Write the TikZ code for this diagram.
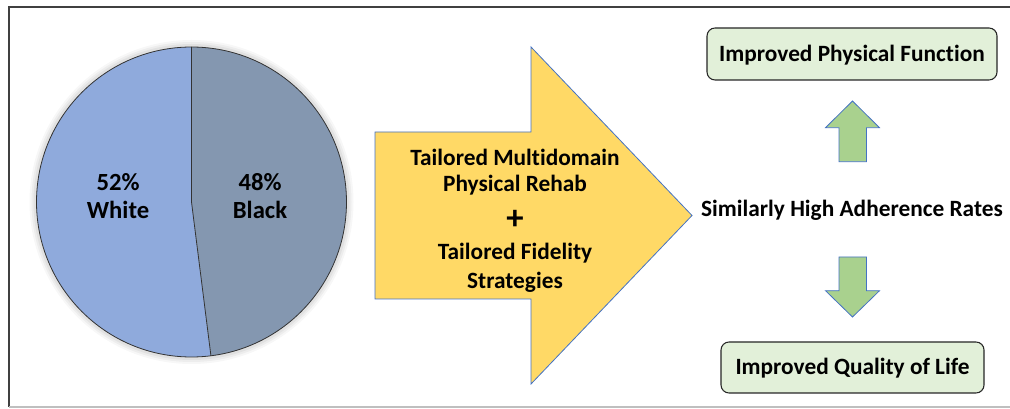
\documentclass[tikz,border=0pt]{standalone}
\usepackage{fontspec}
\usetikzlibrary{calc}
\setmainfont{Carlito}[RawFeature={-liga}]
\definecolor{whiteslice}{HTML}{8FAADC}
\definecolor{blackslice}{HTML}{8497B0}
\definecolor{bigarrow}{HTML}{FFD966}
\definecolor{arrowline}{HTML}{4472C4}
\definecolor{greenarrow}{HTML}{A9D18E}
\definecolor{greenbox}{HTML}{E2F0D9}
\definecolor{framegray}{HTML}{404040}
\tikzset{
  lbl/.style={font=\bfseries\fontsize{17.5pt}{21pt}\selectfont, inner sep=0pt, anchor=center},
  pielbl/.style={font=\bfseries\fontsize{18.5pt}{23pt}\selectfont, inner sep=0pt, align=center},
  outbox/.style={draw=black!85, line width=0.8pt, fill=greenbox, rounded corners=6pt},
  arrowshape/.style={draw=arrowline, line width=0.6pt}
}
\begin{document}
\begin{tikzpicture}[x=0.75pt,y=-0.75pt]
\useasboundingbox (0,0) rectangle (1010,409);
% frame
\draw[framegray, line width=1pt] (9,407) -- (9,7) -- (1012,7);
\draw[black!25, line width=1pt] (9,407) -- (1012,407);
% pie shadow
\foreach \r/\o in {121.5pt/0.03,120pt/0.04,118.5pt/0.05}{
  \fill[black, opacity=\o] (191.5,202) circle[radius=\r];
}
% pie
\coordinate (pc) at (191.5,202);
\fill[whiteslice] (pc) -- ++(90:116.25pt) arc[start angle=90, end angle=277.2, radius=116.25pt] -- cycle;
\fill[blackslice] (pc) -- ++(90:116.25pt) arc[start angle=90, end angle=-82.8, radius=116.25pt] -- cycle;
\draw[black!80, line width=0.6pt] (pc) circle[radius=116.25pt];
\draw[black!80, line width=0.6pt] ($(pc)+(90:116.25pt)$) -- (pc) -- ($(pc)+(-82.8:116.25pt)$);
\node[pielbl] (white) at (118,196) {52\%\\[-2pt]White};
\node[pielbl] (black) at (260,196) {48\%\\[-2pt]Black};
% big arrow
\filldraw[arrowshape, fill=bigarrow] (375,132) -- (531,132) -- (531,47) -- (692,215.5) -- (531,384) -- (531,299) -- (375,299) -- cycle;
\node[lbl] (t1) at (515,157) {Tailored Multidomain};
\node[lbl] (t2) at (515,185) {Physical Rehab};
\node[lbl, font=\bfseries\fontsize{26pt}{30pt}\selectfont] (plus) at (515,220) {+};
\node[lbl] (t3) at (515,253) {Tailored Fidelity};
\node[lbl] (t4) at (515,282) {Strategies};
% right side
\node[lbl] (adh) at (852,210) {Similarly High Adherence Rates};
\draw[outbox] (707,28) rectangle (997,80);
\node[lbl] (pf) at (852,55) {Improved Physical Function};
\draw[outbox] (721,342) rectangle (984,393);
\node[lbl] (ql) at (852.5,368) {Improved Quality of Life};
% green arrows
\filldraw[arrowshape, fill=greenarrow] (852.5,101) -- (879.5,127.7) -- (866.5,127.7) -- (866.5,161.7) -- (839,161.7) -- (839,127.7) -- (825.5,127.7) -- cycle;
\filldraw[arrowshape, fill=greenarrow] (852.5,317) -- (879.5,290.7) -- (866.5,290.7) -- (866.5,257) -- (839,257) -- (839,290.7) -- (825.5,290.7) -- cycle;
\end{tikzpicture}
\end{document}
